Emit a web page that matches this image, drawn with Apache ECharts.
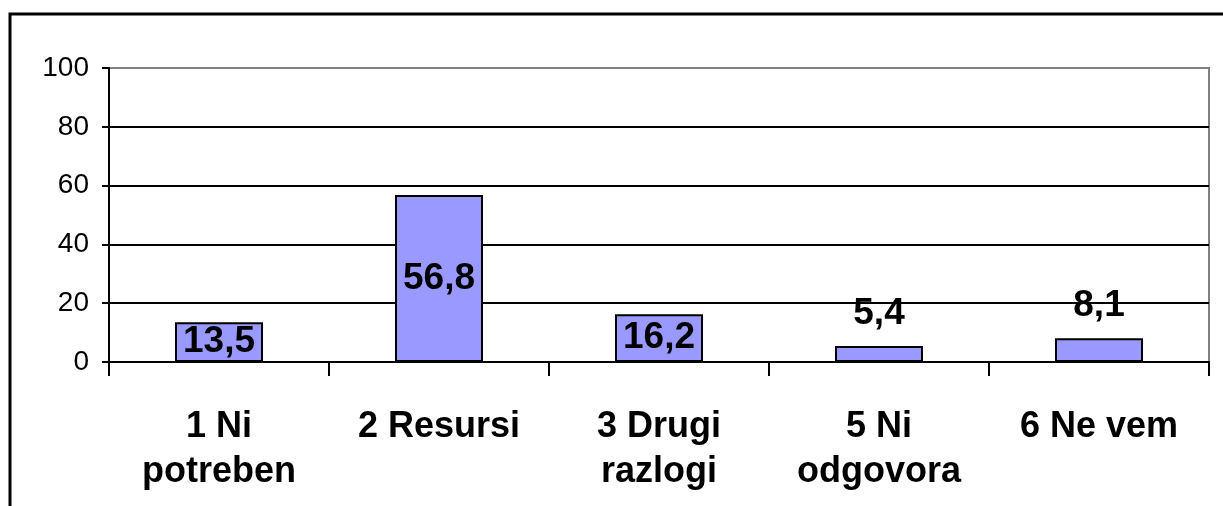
<!DOCTYPE html>
<html>
<head>
<meta charset="utf-8">
<script src="https://cdn.jsdelivr.net/npm/echarts@6/dist/echarts.min.js"></script>
<style>
  html, body { margin: 0; padding: 0; background: #fff; }
  #main { width: 1223px; height: 506px; }
</style>
</head>
<body>
<div id="main"></div>
<script>
// categories and values
let categories = ['1 Ni\npotreben', '2 Resursi', '3 Drugi\nrazlogi', '5 Ni\nodgovora', '6 Ne vem'];
let values = [13.5, 56.8, 16.2, 5.4, 8.1];
let yTicks = [0, 20, 40, 60, 80, 100];

window.addEventListener('load', function () {
    let chart = echarts.init(document.getElementById('main'));

    // small values get their label above the bar
    let data = values.map(function (v) {
        let item = { value: v };
        if (v < 10) {
            item.label = { position: 'top', distance: 14 };
        }
        return item;
    });

    // grid lines black, the top one (plot border) grey
    let splitColors = yTicks.map(function (t, i) {
        return i == yTicks.length - 1 ? '#808080' : '#000';
    });

    let option = {
        backgroundColor: '#fff',
        animation: false,
        graphic: [{
            type: 'rect',
            shape: { x: 10, y: 14, width: 1240, height: 520 },
            style: { fill: 'none', stroke: '#000', lineWidth: 3 },
            silent: true
        }],
        grid: {
            left: 109, right: 14, top: 68, bottom: 144,
            show: true, borderColor: '#808080', borderWidth: 2
        },
        xAxis: {
            type: 'category',
            data: categories,
            axisLine: { lineStyle: { color: '#000', width: 2 } },
            axisTick: { show: true, length: 14, lineStyle: { color: '#000', width: 2 } },
            axisLabel: {
                interval: 0, margin: 43,
                fontFamily: 'Liberation Sans, Arial, sans-serif',
                fontSize: 36, fontWeight: 'bold', color: '#000', lineHeight: 45
            }
        },
        yAxis: {
            type: 'value',
            min: yTicks[0], max: yTicks[yTicks.length - 1], interval: 20,
            axisLine: { show: true, lineStyle: { color: '#000', width: 2 } },
            axisTick: { show: true, length: 7, lineStyle: { color: '#000', width: 2 } },
            axisLabel: {
                margin: 20,
                fontFamily: 'Liberation Sans, Arial, sans-serif',
                fontSize: 28, color: '#000'
            },
            splitLine: { lineStyle: { color: splitColors, width: 2 } }
        },
        series: [{
            type: 'bar',
            data: data,
            barWidth: '40%',
            itemStyle: { color: '#9999FF', borderColor: '#000', borderWidth: 2 },
            label: {
                show: true,
                position: 'inside',
                fontFamily: 'Liberation Sans, Arial, sans-serif',
                fontSize: 37, fontWeight: 'bold', color: '#000',
                formatter: function (p) { return String(p.value).replace('.', ','); }
            }
        }]
    };

    chart.setOption(option);
});
</script>
</body>
</html>
